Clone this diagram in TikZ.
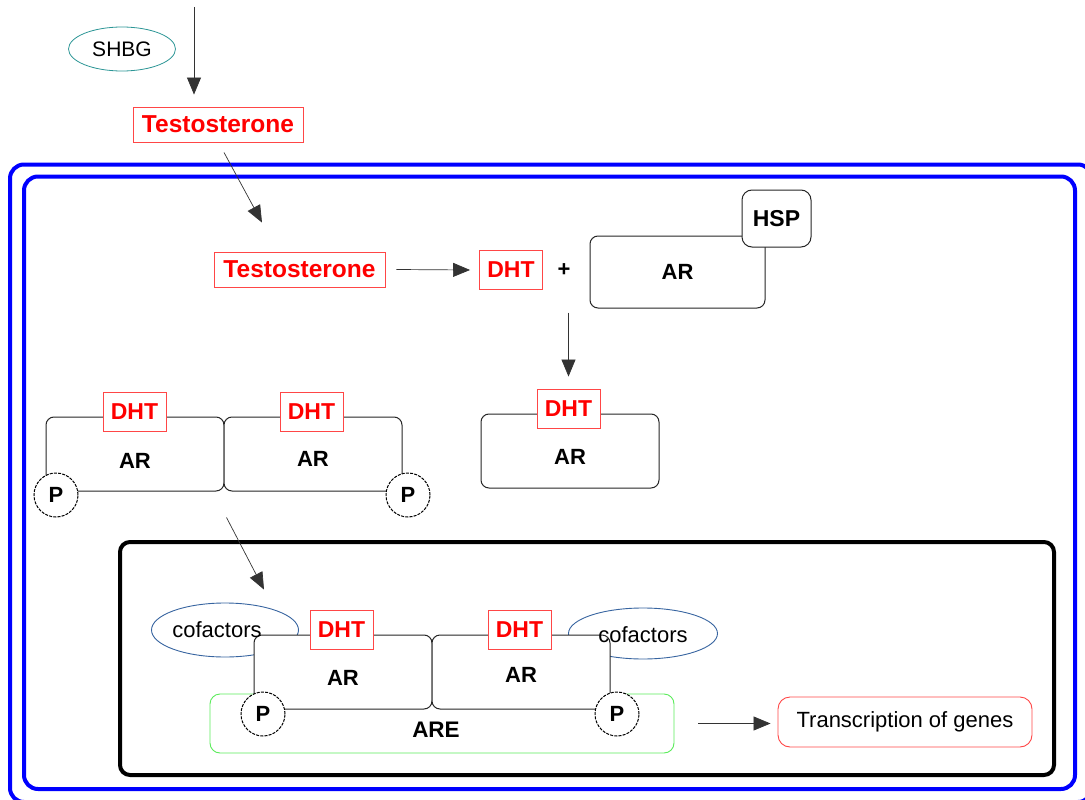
\documentclass[tikz,border=0pt]{standalone}
\usepackage{fontspec}
\setmainfont{Liberation Sans}
\usetikzlibrary{%
        arrows.meta,
        shapes.geometric
    }
\definecolor{hormonered}{RGB}{255,0,0}
\definecolor{hormoneframe}{RGB}{255,70,70}
\definecolor{shbgteal}{RGB}{45,150,150}
\definecolor{cofactorblue}{RGB}{55,100,160}
\definecolor{aregreen}{RGB}{90,235,90}
\tikzset{%
    hormone/.style={draw=hormoneframe, fill=white, text=hormonered,
        line width=0.9pt, inner sep=0pt},
    dht/.style={hormone, minimum width=63pt, minimum height=39pt,
        font=\fontsize{23}{25}\selectfont\bfseries},
    receptor/.style={draw=black!85, fill=white, line width=1pt,
        rounded corners=8pt, inner sep=0pt, minimum width=178pt,
        minimum height=74pt, font=\fontsize{22}{24}\selectfont\bfseries},
    phospho/.style={circle, draw=black, fill=white, line width=1pt,
        dash pattern=on 3pt off 1.2pt, minimum size=44pt, inner sep=0pt,
        font=\fontsize{22}{24}\selectfont\bfseries},
    cofactor/.style={ellipse, draw=cofactorblue, fill=white,
        line width=0.9pt, inner sep=0pt},
    pathway/.style={-{Triangle[length=17pt, width=14pt]}, black!80,
        line width=0.7pt},
    cellwall/.style={draw=blue, line width=4pt, rounded corners=14pt}
}

\begin{document}
\begin{tikzpicture}[x=1pt, y=-1pt]

    \useasboundingbox (0, 0) rectangle (1085, 800);

    % Outside the cell
    \node[ellipse, draw=shbgteal, line width=0.8pt, minimum width=107pt,
        minimum height=44pt, inner sep=0pt, font=\fontsize{21}{23}\selectfont]
        (shbg) at (122, 49) {SHBG};
    \coordinate (blood) at (194, 7);
    \node[hormone, minimum width=170pt, minimum height=35pt,
        font=\fontsize{24.5}{26}\selectfont\bfseries]
        (testo-out) at (218, 124.5) {Testosterone};
    \draw[pathway] (blood) -- ([yshift=12pt] blood |- testo-out.north);


    %%% Cell
    \draw[cellwall] (10, 164.5) rectangle (1092, 802);
    \draw[cellwall] (24, 176.5) rectangle (1075, 789);

    % Conversion
    \node[hormone, minimum width=171pt, minimum height=35pt,
        font=\fontsize{24.5}{26}\selectfont\bfseries]
        (testo-in) at (299.5, 269.5) {Testosterone};
    \draw[pathway]
        ([shift={(6, 10)}] testo-out.south) --
        ([shift={(-37.5, -29)}] testo-in.north);

    \node[dht] (dht) at (511, 270) {DHT};
    \draw[pathway] ([xshift=11pt] testo-in.east) -- ([xshift=-9pt] dht.west);
    \node[font=\fontsize{22}{24}\selectfont\bfseries] (plus) at (564, 270) {+};

    \node[receptor, minimum width=175pt, minimum height=72pt]
        (ar-hsp) at (677.5, 272) {AR};
    \node[receptor, rounded corners=10pt, minimum width=69pt,
        minimum height=57pt, font=\fontsize{23}{25}\selectfont\bfseries]
        (hsp) at (776.5, 218.5) {HSP};

    % Bound receptor
    \node[receptor, text height=27.75pt] (ar-free) at (570, 451) {AR};
    \node[dht] (dht-free) at (568.5, 408.5) {DHT};
    \draw[pathway]
        ([yshift=-4pt] dht-free.north |- ar-hsp.south) --
        ([yshift=12pt] dht-free.north);

    % Dimer
    \node[receptor, text height=29.75pt] (ar-l1) at (135, 454) {AR};
    \node[receptor, text height=25.75pt] (ar-l2) at (313, 454) {AR};
    \node[dht] (dht-l1) at (134.5, 411.5) {DHT};
    \node[dht] (dht-l2) at (311.5, 411.5) {DHT};
    \node[phospho] (p-l1) at (56, 495) {P};
    \node[phospho] (p-l2) at (408, 495) {P};


    %%% Nucleus
    \draw[black, line width=4pt, rounded corners=10pt]
        (120, 542) rectangle (1054, 775);

    \node[cofactor, minimum width=147pt, minimum height=54pt]
        (cof-l) at (225, 630) {};
    \node[cofactor, minimum width=149pt, minimum height=51pt]
        (cof-r) at (643, 633.5) {};

    \node[draw=aregreen, line width=0.9pt, rounded corners=10pt,
        minimum width=464pt, minimum height=59pt,
        label={[xshift=-6pt, yshift=-6.5pt,
            font=\fontsize{22.5}{24}\selectfont\bfseries]center:ARE}]
        (are) at (442, 723.5) {};

    % Dimer on the ARE
    \node[receptor, text height=27.75pt] (ar-n1) at (343, 672) {AR};
    \node[receptor, text height=21.75pt] (ar-n2) at (521, 672) {AR};
    \node[dht] (dht-n1) at (341.5, 629.5) {DHT};
    \node[dht] (dht-n2) at (519.5, 629.5) {DHT};
    \node[phospho] (p-n1) at (263, 714) {P};
    \node[phospho] (p-n2) at (617, 714) {P};
    \node[font=\fontsize{22}{24}\selectfont] (cof-l-text) at (217, 630) {cofactors};
    \node[font=\fontsize{22}{24}\selectfont] (cof-r-text) at (643, 635) {cofactors};

    \draw[pathway]
        ([shift={(2, 26)}] ar-l1.south east) --
        ([shift={(-77.5, -20)}] dht-n1.north);

    % Transcription
    \node[draw=hormoneframe, line width=0.9pt, rounded corners=12pt,
        minimum width=254pt, minimum height=50pt,
        font=\fontsize{22}{24}\selectfont]
        (genes) at (905, 722) {Transcription of genes};
    \draw[pathway]
        ([xshift=24pt] are.east) -- ([xshift=-7pt] are.east -| genes.west);

\end{tikzpicture}
\end{document}
